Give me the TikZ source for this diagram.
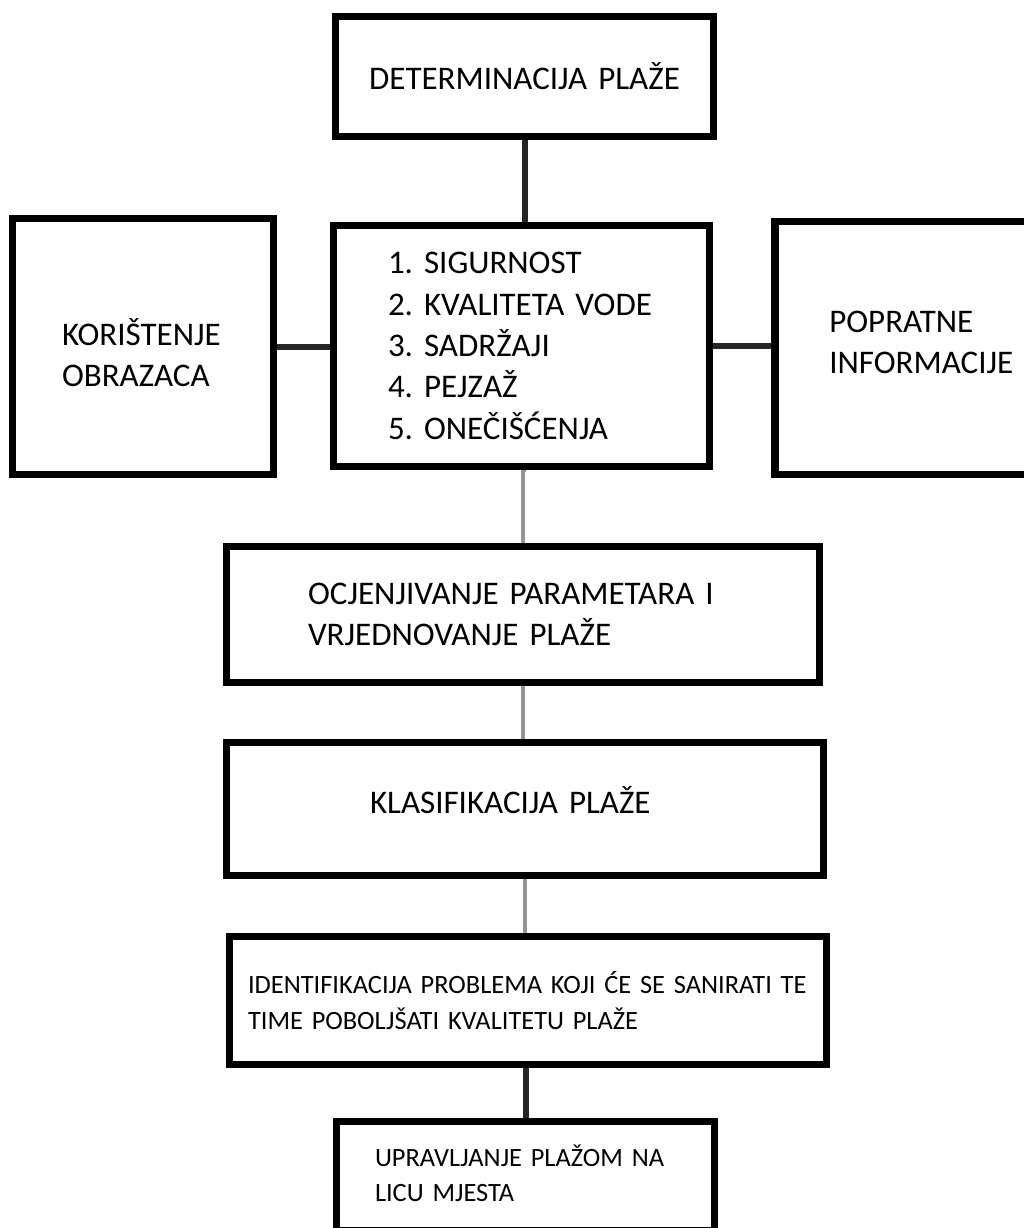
\documentclass[tikz,border=0pt]{standalone}
\usepackage{fontspec}
\setmainfont{Carlito}
\usepackage{tikz}
\usetikzlibrary{backgrounds}
\hyphenpenalty=10000
\frenchspacing

\begin{document}
\begin{tikzpicture}[x=0.75pt,y=-0.75pt,
  box/.style={draw,line width=5.5pt,fill=white,inner ysep=0pt,align=left,
    font=\fontsize{24.75}{31}\selectfont},
  smallbox/.style={box,font=\fontsize{19.8}{26.5}\selectfont},
  link/.style={draw=black!85,line width=4.5pt},
  greylink/.style={draw=black!42,line width=3pt}]

\useasboundingbox (0,0) rectangle (1024,1228);
\clip (0,0) rectangle (1024,1228);

\node[box,align=center,inner xsep=0pt,text width=283.25pt,
  minimum width=283.25pt,minimum height=89.75pt] (determ) at (524.5,76.5)
  {DETERMINACIJA PLAŽE};
\node[box,inner xsep=37pt,text width=121.5pt,text height=20pt,text depth=21.35pt,
  minimum width=195.5pt,minimum height=191.75pt] (obrasci) at (143,346.5)
  {\mbox{KORIŠTENJE}\\\mbox{OBRAZACA}};
\node[box,inner xsep=40.75pt,text width=200.25pt,
  minimum width=281.75pt,minimum height=180.5pt] (param) at (521.5,346)
  {\mbox{1. SIGURNOST}\\\mbox{2. KVALITETA VODE}\\\mbox{3. SADRŽAJI}\\
   \mbox{4. PEJZAŽ}\\\mbox{5. ONEČIŠĆENJA}};
\node[box,inner xsep=40.75pt,text width=256pt,text height=20pt,text depth=43.1pt,
  minimum width=337.5pt,minimum height=189.5pt] (info) at (1000,348)
  {\mbox{POPRATNE}\\\mbox{INFORMACIJE}};
\node[box,inner xsep=61pt,text width=322.5pt,
  minimum width=444.5pt,minimum height=101.75pt] (ocjena) at (523,614.5)
  {\mbox{OCJENJIVANJE PARAMETARA I}\\\mbox{VRJEDNOVANJE PLAŽE}};
\node[box,inner xsep=107.5pt,text width=232.5pt,text height=6.9pt,text depth=0pt,
  minimum width=447.5pt,minimum height=99.5pt] (klasa) at (525,809)
  {\mbox{KLASIFIKACIJA PLAŽE}};
\node[smallbox,inner xsep=13.75pt,text width=420pt,
  minimum width=447.5pt,minimum height=95.75pt] (problem) at (528,1000.5)
  {\mbox{IDENTIFIKACIJA PROBLEMA KOJI ĆE SE SANIRATI TE}\\
   \mbox{TIME POBOLJŠATI KVALITETU PLAŽE}};
\node[smallbox,inner xsep=28.75pt,text width=225.75pt,text height=15pt,text depth=29.25pt,
  minimum width=283.25pt,minimum height=81.5pt] (upravljanje) at (525.5,1176)
  {\mbox{UPRAVLJANJE PLAŽOM NA}\\\mbox{LICU MJESTA}};

\begin{scope}[on background layer]
\draw[link] (determ.south) -- (determ.south |- param.north);
\draw[link] (obrasci.east) -- (obrasci.east -| param.west);
\draw[link] (param.east) -- (param.east -| info.west);
\draw[greylink] (param.south) ++(4,0) -- (ocjena.north |- param.south) -- (ocjena.north);
\draw[greylink] (ocjena.south) -- (ocjena.south |- klasa.north);
\draw[greylink] (klasa.south) -- (klasa.south |- problem.north);
\draw[link] (problem.south -| upravljanje.north) -- (upravljanje.north);
\end{scope}
\end{tikzpicture}
\end{document}
